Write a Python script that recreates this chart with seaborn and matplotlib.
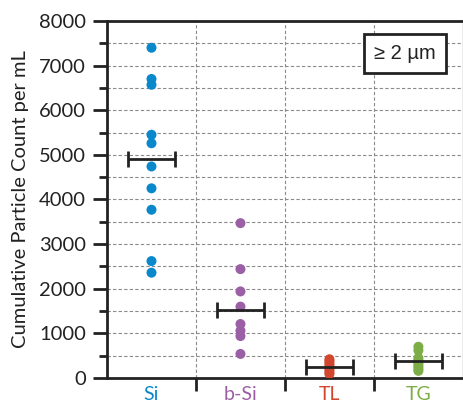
import pandas as pd
import matplotlib.pyplot as plt
import seaborn as sns
from matplotlib.ticker import MultipleLocator, FixedLocator

# Du lieu doc tu hinh
categories = ['Si', 'b-Si', 'TL', 'TG']
si_counts = [7400, 6700, 6570, 5450, 5260, 4740, 4250, 3770, 2620, 2360]
bsi_counts = [3470, 2440, 1940, 1600, 1210, 1060, 940, 540]
tl_counts = [420, 380, 330, 280, 230, 180, 130, 90]
tg_counts = [700, 620, 450, 400, 350, 300, 250, 200, 160]
mean_counts = [4910, 1530, 250, 380]
colors = ['#0a88cc', '#9b5fa6', '#d2462f', '#7dad46']

df = pd.concat([
    pd.DataFrame({'Sample': cat, 'Count': vals})
    for cat, vals in zip(categories, [si_counts, bsi_counts, tl_counts, tg_counts])
], ignore_index=True)

sns.set_theme(style="white")
plt.rcParams['font.family'] = ['Lato', 'DejaVu Sans']

fig = plt.figure(figsize=(4.64, 4.03), dpi=100)
ax = fig.add_axes([0.2306, 0.062, 0.767, 0.886])

sns.stripplot(data=df, x='Sample', y='Count', hue='Sample', order=categories,
              palette=colors, jitter=False, size=7.2, legend=False, ax=ax, zorder=3)

# Thanh trung binh
ax.errorbar(x=range(len(categories)), y=mean_counts, xerr=0.26, fmt='none',
            ecolor='#222222', elinewidth=2, capsize=5.5, capthick=2, zorder=4)

ax.set_xlim(-0.5, 3.5)
ax.set_ylim(0, 8000)
ax.yaxis.set_major_locator(MultipleLocator(1000))
ax.yaxis.set_minor_locator(MultipleLocator(500))
ax.xaxis.set_minor_locator(FixedLocator([0.5, 1.5, 2.5]))

ax.grid(True, which='minor', axis='x', color='#8a8a8a', linestyle=(0, (3, 2)), linewidth=0.8)
ax.grid(True, which='both', axis='y', color='#8a8a8a', linestyle=(0, (3, 2)), linewidth=0.8)
ax.set_axisbelow(True)

ax.tick_params(axis='y', which='major', direction='out', length=10, width=2,
               color='#222222', labelsize=14.5, labelcolor='#222222', left=True, pad=5)
ax.tick_params(axis='y', which='minor', direction='out', length=6, width=2,
               color='#222222', left=True)
ax.tick_params(axis='x', which='major', length=0, labelsize=14, pad=6)
ax.tick_params(axis='x', which='minor', direction='out', length=9, width=2,
               color='#222222', bottom=True)

for lbl, c in zip(ax.get_xticklabels(), colors):
    lbl.set_color(c)

for side in ['left', 'bottom', 'top']:
    ax.spines[side].set_color('#222222')
    ax.spines[side].set_linewidth(2)
ax.spines['right'].set_color('#999999')
ax.spines['right'].set_linewidth(1)

ax.set_xlabel('')
ax.set_ylabel('Cumulative Particle Count per mL', fontsize=14.5, color='#222222', labelpad=7)

ax.text(0.838, 0.909, '\u2265 2 \u00b5m', transform=ax.transAxes, ha='center', va='center',
        fontsize=14.5, family=['Liberation Sans', 'DejaVu Sans'], color='#222222',
        bbox=dict(boxstyle='square,pad=0.5', facecolor='white', edgecolor='#222222', linewidth=2),
        zorder=5)

fig.savefig('out.png', dpi=100)
